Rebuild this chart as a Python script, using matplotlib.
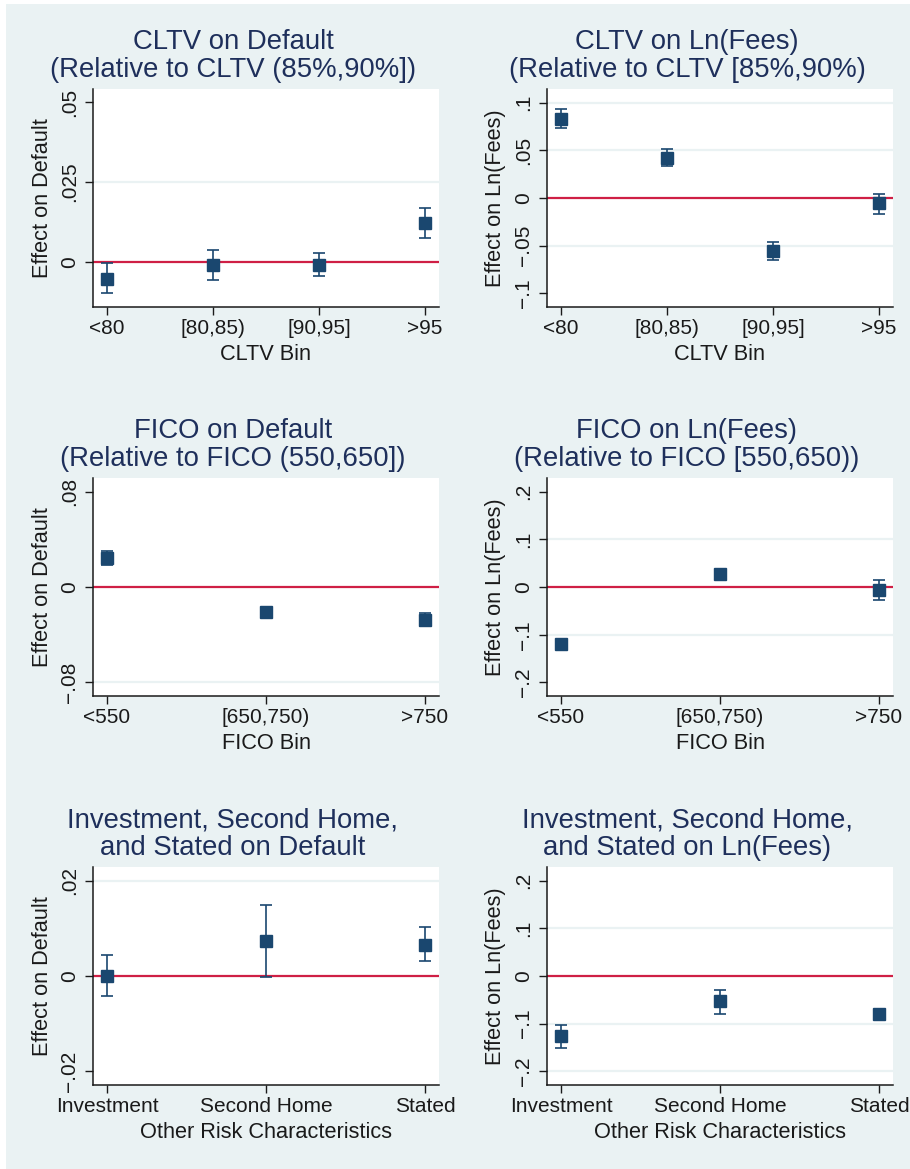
import matplotlib
matplotlib.use("Agg")
import matplotlib.pyplot as plt
from matplotlib.patches import Rectangle
from matplotlib.transforms import Bbox, TransformedBbox
import numpy as np

plt.rcParams['font.family'] = ['Liberation Sans', 'DejaVu Sans']

# ---- data -------------------------------------------------------------
cltv_bins = ["<80", "[80,85)", "[90,95]", ">95"]
cltv_default_est = [-0.0053, -0.0010, -0.0010, 0.0123]
cltv_default_lo = [-0.0097, -0.0056, -0.0044, 0.0076]
cltv_default_hi = [-0.0003, 0.0038, 0.0028, 0.0168]

cltv_fees_est = [0.0832, 0.0423, -0.0553, -0.0056]
cltv_fees_lo = [0.0737, 0.0339, -0.0647, -0.0168]
cltv_fees_hi = [0.0930, 0.0514, -0.0462, 0.0042]

fico_bins = ["<550", "[650,750)", ">750"]
fico_default_est = [0.0246, -0.0213, -0.0275]
fico_default_lo = [0.0186, -0.0243, -0.0330]
fico_default_hi = [0.0306, -0.0183, -0.0220]

fico_fees_est = [-0.1190, 0.0264, -0.0071]
fico_fees_lo = [-0.1240, 0.0214, -0.0266]
fico_fees_hi = [-0.1140, 0.0314, 0.0138]

risk_cats = ["Investment", "Second Home", "Stated"]
risk_default_est = [0.0001, 0.0074, 0.0066]
risk_default_lo = [-0.0043, -0.0002, 0.0031]
risk_default_hi = [0.0045, 0.0150, 0.0103]

risk_fees_est = [-0.1267, -0.0532, -0.0805]
risk_fees_lo = [-0.1520, -0.0790, -0.0880]
risk_fees_hi = [-0.1036, -0.0294, -0.0730]

# ---- style ------------------------------------------------------------
W, H = 910, 1169
BG = "#eaf2f3"
NAVY = "#1a476f"
TITLE_C = "#1e2f5b"
RED = "#cf1f45"
INK = "#1a1a1a"


def fmt(v):
    if v == 0:
        return "0"
    s = f"{abs(v):g}"
    if s.startswith("0"):
        s = s[1:]
    return ("\u2212" if v < 0 else "") + s


fig = plt.figure(figsize=(W / 100, H / 100), dpi=100, facecolor="white")
fig.patches.append(Rectangle((6 / W, 0), 1 - 6 / W, 1 - 4 / H,
                             transform=fig.transFigure, facecolor=BG,
                             edgecolor="none", zorder=-10))


def panel(left, top, cats, est, lo, hi, yticks, ylim, grid, title,
          xlabel, ylabel, clip_right):
    w, h = 346, 218
    ax = fig.add_axes([left / W, 1 - (top + h) / H, w / W, h / H])
    ax.set_facecolor("white")
    n = len(cats)
    x = np.arange(n)
    margin = 0.132 if n == 4 else 0.088
    ax.set_xlim(-margin, n - 1 + margin)
    ax.set_ylim(*ylim)
    for g in grid:
        ax.axhline(g, color=BG, lw=1.6, zorder=0.5)
    ax.axhline(0, color=RED, lw=1.6, zorder=1)
    est = np.array(est)
    ax.errorbar(x, est, yerr=[est - np.array(lo), np.array(hi) - est],
                fmt="s", color=NAVY, ms=8.6, capsize=4.3, elinewidth=1.2,
                capthick=1.2, zorder=3)
    for s in ("top", "right"):
        ax.spines[s].set_visible(False)
    for s in ("left", "bottom"):
        ax.spines[s].set_color(INK)
        ax.spines[s].set_linewidth(1.1)
    ax.set_xticks(x, cats)
    ax.set_yticks(yticks, [fmt(v) for v in yticks], rotation=90, va="center")
    ax.tick_params(axis="both", direction="out", length=5.8, width=1.0,
                   color=INK, labelcolor=INK, labelsize=15)
    ax.tick_params(axis="x", pad=2.5)
    ax.tick_params(axis="y", pad=4.0)
    ax.set_xlabel(xlabel, fontsize=15.7, color=INK, va="baseline")
    ax.xaxis.set_label_coords(0.5, -53 / h)
    ax.set_ylabel(ylabel, fontsize=15.7, color=INK, va="center")
    ax.yaxis.set_label_coords(-51 / w, 0.5)
    clip = TransformedBbox(Bbox.from_extents(0, 0, clip_right / W, 1),
                           fig.transFigure)
    for lab in ax.get_xticklabels():
        lab.set_clip_box(clip)
        lab.set_clip_on(True)
    cx = (left - 93 + 233) / W
    fig.text(cx, 1 - (top - 12.3 - 27.5) / H, title[0], ha="center",
             va="baseline", fontsize=19.8, color=TITLE_C)
    fig.text(cx, 1 - (top - 12.3) / H, title[1], ha="center",
             va="baseline", fontsize=19.8, color=TITLE_C)
    return ax


panel(93, 89, cltv_bins, cltv_default_est, cltv_default_lo, cltv_default_hi,
      [0, 0.025, 0.05], (-0.01406, 0.05406), [0.025],
      ("CLTV on Default", "(Relative to CLTV (85%,90%])"),
      "CLTV Bin", "Effect on Default", 456)
panel(547, 89, cltv_bins, cltv_fees_est, cltv_fees_lo, cltv_fees_hi,
      [-0.1, -0.05, 0, 0.05, 0.1], (-0.1143, 0.1143), [0.1, 0.05, -0.05],
      ("CLTV on Ln(Fees)", "(Relative to CLTV [85%,90%)"),
      "CLTV Bin", "Effect on Ln(Fees)", W)
panel(93, 478, fico_bins, fico_default_est, fico_default_lo, fico_default_hi,
      [-0.08, 0, 0.08], (-0.0915, 0.0915), [-0.08],
      ("FICO on Default", "(Relative to FICO (550,650])"),
      "FICO Bin", "Effect on Default", 456)
panel(547, 478, fico_bins, fico_fees_est, fico_fees_lo, fico_fees_hi,
      [-0.2, -0.1, 0, 0.1, 0.2], (-0.2285, 0.2285), [0.1, -0.1],
      ("FICO on Ln(Fees)", "(Relative to FICO [550,650))"),
      "FICO Bin", "Effect on Ln(Fees)", W)
panel(93, 867, risk_cats, risk_default_est, risk_default_lo, risk_default_hi,
      [-0.02, 0, 0.02], (-0.0229, 0.0229), [0.02],
      ("Investment, Second Home,", "and Stated on Default"),
      "Other Risk Characteristics", "Effect on Default", 456)
panel(547, 867, risk_cats, risk_fees_est, risk_fees_lo, risk_fees_hi,
      [-0.2, -0.1, 0, 0.1, 0.2], (-0.2287, 0.2287), [0.1, -0.1, -0.2],
      ("Investment, Second Home,", "and Stated on Ln(Fees)"),
      "Other Risk Characteristics", "Effect on Ln(Fees)", W)

fig.savefig("out.png", dpi=100, facecolor="white")
